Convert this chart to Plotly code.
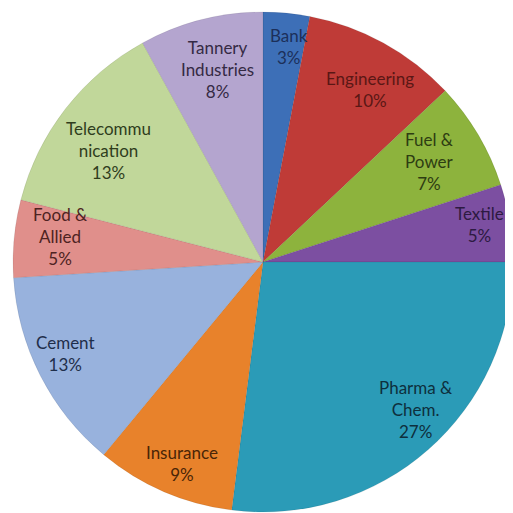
import math
import plotly.graph_objects as go

labels = ["Bank", "Engineering", "Fuel & Power", "Textile", "Pharma & Chem.",
          "Insurance", "Cement", "Food & Allied", "Telecommunication", "Tannery Industries"]
label_lines = ["Bank", "Engineering", "Fuel &<br>Power", "Textile", "Pharma &<br>Chem.",
               "Insurance", "Cement", "Food &<br>Allied", "Telecommu<br>nication", "Tannery<br>Industries"]
values = [3, 10, 7, 5, 27, 9, 13, 5, 13, 8]

colors = ["#3d6fb7", "#bf3b37", "#8db33d", "#7c4fa1", "#2b9bb7",
          "#e8822b", "#98b2dd", "#e08f8b", "#c1d79a", "#b4a5cf"]
text_colors = ["#1c2f5a", "#5a1715", "#2e3d12", "#2d1a42", "#0e2f3d",
               "#4a2507", "#1f2e4a", "#4e2322", "#2f3d1d", "#342a44"]
# label placement (style): radial fraction and angular nudge in degrees
label_r = [0.87, 0.81, 0.78, 0.88, 0.85, 0.87, 0.87, 0.82, 0.76, 0.79]
label_dt = [1.5, 3.0, -0.5, -0.7, -4.5, -1.5, 2.0, 1.8, -2.0, 1.2]

OFF = 8  # page body margin
W = H = 513
CX, CY, R = 263 - OFF, 262 - OFF, 250

fig = go.Figure(go.Pie(
    labels=labels, values=values, sort=False, direction="clockwise", rotation=0,
    marker=dict(colors=colors, line=dict(color="rgba(0,0,0,0.15)", width=0.5)),
    textinfo="none", hoverinfo="label+percent", showlegend=False,
    domain=dict(x=[(CX - R) / W, (CX + R) / W], y=[1 - (CY + R) / H, 1 - (CY - R) / H]),
))

total = sum(values)
cum = 0
annotations = []
for i, v in enumerate(values):
    mid = (cum + v / 2) / total * 360 + label_dt[i]
    cum += v
    t = math.radians(mid)
    px = CX + R * label_r[i] * math.sin(t)
    py = CY - R * label_r[i] * math.cos(t)
    annotations.append(dict(
        x=px / W, y=1 - py / H, xref="paper", yref="paper",
        xanchor="center", yanchor="middle",
        text=f"{label_lines[i]}<br>{round(v / total * 100)}%",
        showarrow=False, align="center",
        font=dict(family="Lato", size=17, color=text_colors[i]),
    ))

fig.update_layout(
    width=W, height=H, margin=dict(l=0, r=0, t=0, b=0),
    paper_bgcolor="white", plot_bgcolor="white",
    annotations=annotations,
)
fig.write_html("out.html")
